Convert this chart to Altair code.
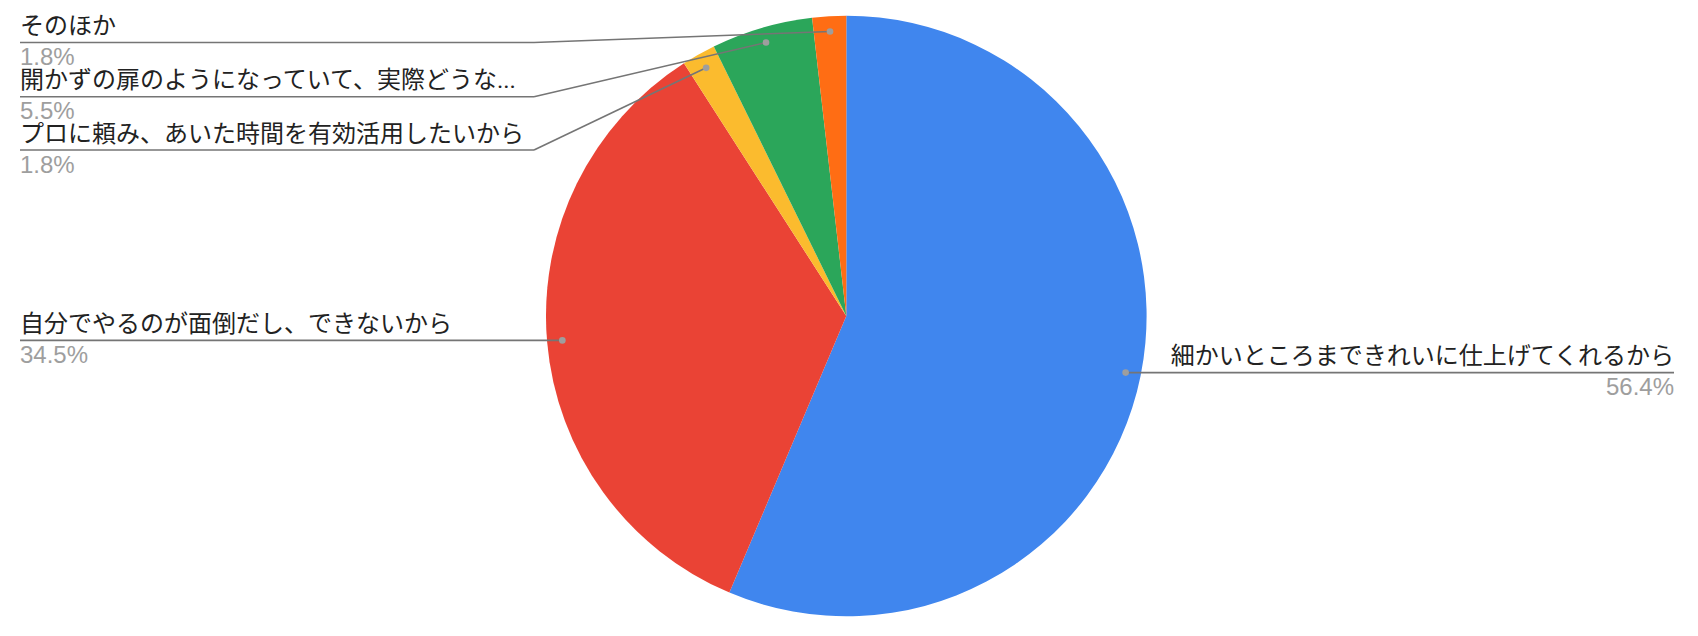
import altair as alt
import pandas as pd

# ---- data ----
categories = [
    "細かいところまできれいに仕上げてくれるから",
    "自分でやるのが面倒だし、できないから",
    "プロに頼み、あいた時間を有効活用したいから",
    "開かずの扉のようになっていて、実際どうな...",
    "そのほか",
]
counts = [31, 19, 1, 3, 1]

# ---- styles / layout ----
colors = ["#4086EE", "#EA4335", "#FBBB2E", "#2BA65A", "#FF6D14"]
label_side = ["right", "left", "left", "left", "left"]
label_line_y = [None, None, 142.0, 88.7, 34.5]  # stacked left labels
CX, CY, R = 838.3, 308.0, 300.3
RA = 285.0           # anchor radius for leader dots
ELBOW_X = 526.0
LEFT_X, RIGHT_X = 12.0, 1666.0
W, H = 1682, 620
FONT_CJK = "Roboto, Noto Sans CJK JP"
FONT_PCT = "Liberation Sans, Arial"

df = pd.DataFrame({
    "category": categories,
    "count": counts,
    "order": list(range(len(categories))),
    "side": label_side,
    "ly0": label_line_y,
})

base = alt.Chart(df).transform_joinaggregate(
    total="sum(count)"
).transform_window(
    cum="sum(count)", sort=[alt.SortField("order")], frame=[None, 0]
).transform_calculate(
    mid="2*PI*(datum.cum - datum.count/2)/datum.total",
    ax=f"{CX} + {RA}*sin(datum.mid)",
    ay=f"{CY} - {RA}*cos(datum.mid)",
).transform_calculate(
    ly="isValid(datum.ly0) ? datum.ly0 : datum.ay",
    ex=f"isValid(datum.ly0) ? {ELBOW_X} : datum.ax",
    tx=f"datum.side == 'left' ? {LEFT_X} : {RIGHT_X}",
    pct="format(datum.count/datum.total, '.1%')",
)

pie = alt.Chart(df).mark_arc(radius=R).encode(
    theta=alt.Theta("count:Q", stack=True),
    color=alt.Color("category:N", scale=alt.Scale(domain=categories, range=colors), legend=None),
    order=alt.Order("order:Q"),
    x=alt.value(CX),
    y=alt.value(CY),
)

X = lambda f: alt.X(f, type="quantitative", scale=None, axis=None)
Y = lambda f: alt.Y(f, type="quantitative", scale=None, axis=None)

diag = base.mark_rule(color="#757575", strokeWidth=1.6).encode(
    x=X("ax"), y=Y("ay"), x2="ex:Q", y2="ly:Q"
)
horiz = base.mark_rule(color="#757575", strokeWidth=1.6).encode(
    x=X("ex"), y=Y("ly"), x2="tx:Q", y2="ly:Q"
)
dots = base.mark_point(filled=True, opacity=1, color="#9E9E9E", size=44).encode(
    x=X("ax"), y=Y("ay")
)

def labels(side, align):
    b = base.transform_filter(f"datum.side == '{side}'")
    name = b.transform_calculate(ty="datum.ly - 8.5").mark_text(
        align=align, baseline="alphabetic", font=FONT_CJK, fontSize=24, color="#222222"
    ).encode(x=X("tx"), y=Y("ty"), text="category:N")
    pct = b.transform_calculate(ty="datum.ly + 22.5").mark_text(
        align=align, baseline="alphabetic", font=FONT_PCT, fontSize=24, color="#9E9E9E"
    ).encode(x=X("tx"), y=Y("ty"), text="pct:N")
    return name + pct

chart = alt.layer(
    pie, diag, horiz, dots, labels("left", "left"), labels("right", "right")
).properties(
    width=W, height=H, autosize=alt.AutoSizeParams(type="none"), padding=0
).configure_view(stroke=None)

chart.save("out.html", embed_options={"renderer": "svg", "actions": False})
